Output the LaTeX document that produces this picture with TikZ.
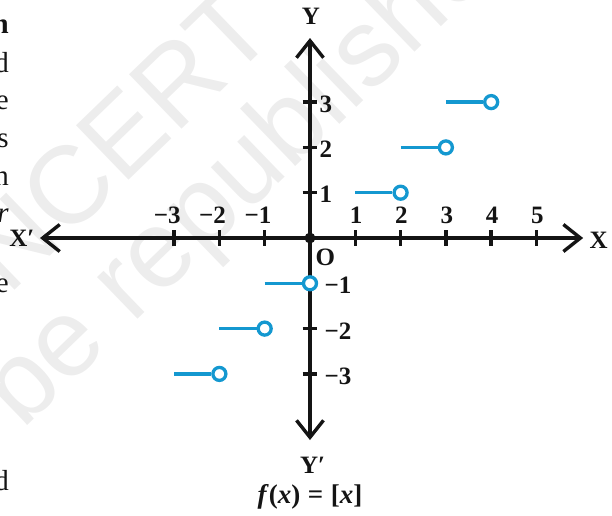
\documentclass[tikz,border=0pt]{standalone}
\usepackage{fontspec}
\setmainfont{Liberation Serif}
\newfontfamily\wmfont{Liberation Sans}
\usetikzlibrary{arrows.meta}
\definecolor{stepblue}{RGB}{20,152,208}
\begin{document}
\begin{tikzpicture}[x=45.3bp,y=45.3bp,
  axis/.style={line width=3.4bp, draw=black!92, line join=miter},
  bothtips/.style={{Straight Barb[length=17bp,width=27bp]}-{Straight Barb[length=17bp,width=27bp]}},
  tickmark/.style={line width=3.4bp, draw=black!92},
  lbl/.style={font=\fontsize{25bp}{28bp}\selectfont\bfseries, inner sep=0pt, text=black!92},
  seg/.style={line width=3.5bp, draw=stepblue},
  opendot/.style={circle, draw=stepblue, line width=3.3bp, fill=white, minimum size=13bp, inner sep=0pt},
  pagetxt/.style={font=\fontsize{29bp}{34bp}\selectfont, anchor=base east, inner sep=0pt, text=black!92},
  wm/.style={font=\wmfont\fontsize{110bp}{110bp}\selectfont, text=black!7, anchor=base west, inner sep=0pt, rotate=44}]

\useasboundingbox (-6.843,-6.115) rectangle (6.667,5.254);
\clip (-6.843,-6.115) rectangle (6.667,5.254);

% watermark
\node[wm] (wm1) at (-6.667,-1.302) {NCERT};
\node[wm] (wm2) at (-6.358,-4.260) {be republished};

% cropped page text on the left
\node[pagetxt, font=\fontsize{29bp}{34bp}\selectfont\bfseries] (p1) at (-6.645,4.525) {n};
\node[pagetxt] (p2) at (-6.645,3.664) {d};
\node[pagetxt] (p3) at (-6.645,2.826) {e};
\node[pagetxt] (p4) at (-6.645,1.987) {s};
\node[pagetxt] (p5) at (-6.645,1.170) {n};
\node[pagetxt, font=\fontsize{29bp}{34bp}\selectfont\itshape] (p6) at (-6.645,0.353) {r};
\node[pagetxt] (p7) at (-6.645,-1.192) {e};
\node[pagetxt] (p8) at (-6.645,-5.563) {d};

% axes
\coordinate (O) at (0,0);
\coordinate (xleft) at (-5.96,0);
\coordinate (xright) at (6.03,0);
\coordinate (ybot) at (0,-4.46);
\coordinate (ytop) at (0,4.415);
\draw[axis,bothtips] (xleft) -- (xright);
\draw[axis,bothtips] (ybot) -- (ytop);

% ticks
\foreach \i in {-3,-2,-1,1,2,3,4,5}
  \draw[tickmark] (\i,-0.175) -- (\i,0.175);
\foreach \j in {-3,-2,1,2,3}
  \draw[tickmark] (-0.165,\j) -- (0.165,\j);

% origin
\fill[black!92] (O) circle (0.12);

% x labels
\foreach \i in {1,...,5}
  \node[lbl] (xt\i) at (\i+0.02,0.50) {\i};
\foreach \i in {1,2,3}
  \node[lbl] (xn\i) at (-\i-0.15,0.50) {−\i};

% y labels
\foreach \j in {1,2,3}
  \node[lbl, anchor=west] (yt\j) at (0.21,\j-0.04) {\j};
\foreach \j in {1,2,3}
  \node[lbl, anchor=west] (yn\j) at (0.32,-\j-0.05) {−\j};

% axis names
\node[lbl] (labX) at (6.37,-0.04) {X};
\node[lbl] (labXp) at (-6.36,0) {X′};
\node[lbl] (labY) at (0.02,4.90) {Y};
\node[lbl] (labYp) at (0.06,-5.01) {Y′};
\node[lbl] (labO) at (0.34,-0.42) {O};
\node[lbl, font=\fontsize{27bp}{30bp}\selectfont\bfseries] (title) at (0,-5.72)
  {\textit{f}(\textit{x})\;=\;[\textit{x}]};

% steps
\foreach \k in {1,2,3} {
  \coordinate (sp\k) at (\k,\k);
  \node[opendot] (cp\k) at (\k+1,\k) {};
  \draw[seg] (sp\k) -- (cp\k);
  \coordinate (sn\k) at (-\k,-\k);
  \node[opendot] (cn\k) at (-\k+1,-\k) {};
  \draw[seg] (sn\k) -- (cn\k);
}
\end{tikzpicture}
\end{document}
